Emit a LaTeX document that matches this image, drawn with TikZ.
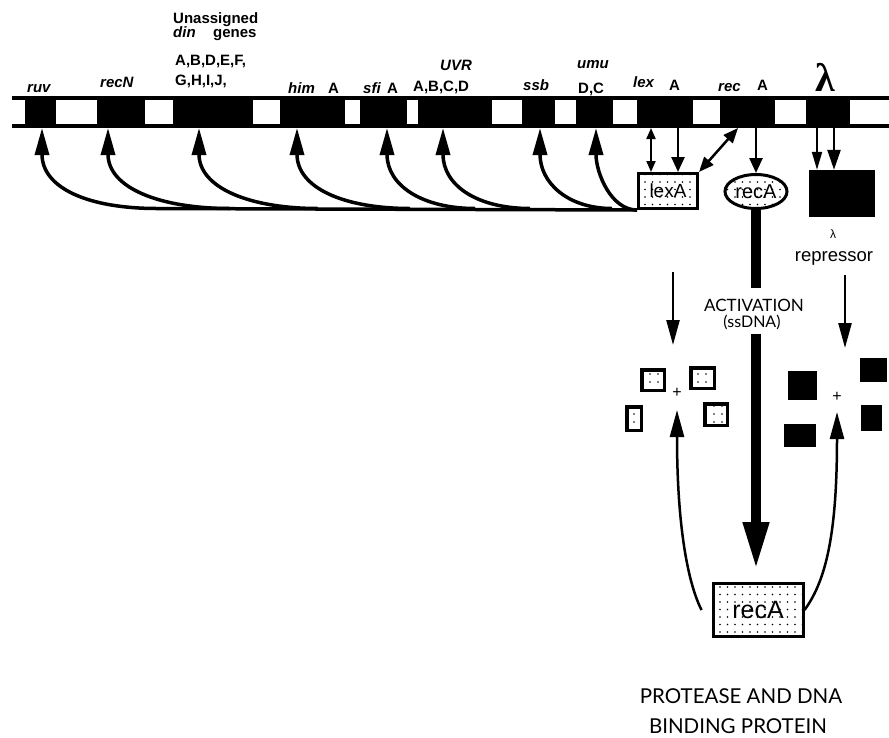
\documentclass[tikz,border=0pt]{standalone}
\usepackage{fontspec}
\setmainfont{Liberation Sans}
\newfontfamily\gillfont{Lato}
\newfontfamily\lamfont{Liberation Serif}
\usepackage{tikz}
\usetikzlibrary{
  shapes.geometric, arrows.meta, patterns.meta, positioning
}
\tikzset{
  genelabel/.style={
    anchor=base west, inner sep=0pt,
    font=\fontsize{15}{17}\selectfont\bfseries\itshape
  },
  genetext/.style={
    anchor=base west, inner sep=0pt,
    font=\fontsize{15}{17}\selectfont\bfseries
  },
  dotbox/.style={
    draw, line width=3pt, inner sep=0pt, align=center,
    pattern={Dots[radius=0.9pt, distance=7.5pt]}
  },
  dotsquare/.style={
    draw, line width=3.5pt, inner sep=0pt,
    pattern={Dots[radius=0.9pt, distance=8pt, xshift=2pt, yshift=3pt]}
  },
  blacksquare/.style={
    fill=black, inner sep=0pt
  },
  genearrow/.style={
    -{Triangle[length=27pt, width=14pt]}, line width=3.5pt
  },
  boxarrow/.style={
    -{Triangle[length=15pt, width=13pt]}, line width=2.5pt
  },
  twoarrow/.style={
    {Triangle[length=11pt, width=9pt]}-{Triangle[length=11pt, width=9pt]},
    line width=2pt
  },
  bigtwoarrow/.style={
    {Triangle[length=15pt, width=12pt]}-{Triangle[length=15pt, width=12pt]},
    line width=2.5pt
  },
  cyclearrow/.style={
    -{Triangle[length=27pt, width=14pt]}, line width=2.5pt
  },
  shaft/.style={line width=10pt},
  bottomtext/.style={
    font=\gillfont\fontsize{20.5}{24}\selectfont, anchor=base, inner sep=0pt
  },
}

\begin{document}
\begin{tikzpicture}[x=1pt, y=-1pt]
  \useasboundingbox (0,0) rectangle (889,737);

  % Chromosome band with gaps
  \fill (12,96) rectangle (889,128);
  \foreach \xa/\xb in {11/25, 56/97, 145/173, 253/280, 345/360, 407/418,
      492/522, 555/576, 613/637, 693/720, 775/806, 850/890}
    \fill[white] (\xa,100) rectangle (\xb,124);

  % Gene names
  \node[genelabel] (lruv) at (27,92) {ruv};
  \node[genelabel] (lrecN) at (100,87) {recN};
  \node[genetext] (lunas) at (173,23) {Unassigned};
  \node[genelabel] (ldin) at (173,37) {din};
  \node[genetext] (lgenes) at (213,37) {genes};
  \node[genetext] (ldin1) at (175,65) {A,B,D,E,F,};
  \node[genetext] (ldin2) at (175,85) {G,H,I,J,};
  \node[genelabel] (lhim) at (288,93) {him};
  \node[genetext] (lhimA) at (328,93) {A};
  \node[genelabel] (lsfi) at (363,93) {sfi};
  \node[genetext] (lsfiA) at (387,93) {A};
  \node[genelabel] (luvr) at (440,70) {UVR};
  \node[genetext] (luvrA) at (413,91) {A,B,C,D};
  \node[genelabel] (lssb) at (523,90) {ssb};
  \node[genelabel] (lumu) at (577,68) {umu};
  \node[genetext] (lumuD) at (578,93) {D,C};
  \node[genelabel] (llex) at (633,87) {lex};
  \node[genetext] (llexA) at (669,90) {A};
  \node[genelabel] (lrec) at (718,91) {rec};
  \node[genetext] (lrecA) at (757,90) {A};
  \node[anchor=base west, inner sep=0pt,
    font=\lamfont\bfseries\fontsize{40}{42}\selectfont] (llam) at (815,91) {λ};

  % Gene products
  \node[dotbox, minimum width=59, minimum height=35,
    font=\fontsize{19}{21}\selectfont] (lexA) at (668,191) {lexA};
  \node[dotbox, ellipse, minimum width=62, minimum height=34,
    font=\fontsize{20}{22}\selectfont] (recAo) at (756,191.5) {recA};
  \node[blacksquare, minimum width=66, minimum height=47] (lrep) at (842,193.5) {};
  \node[inner sep=0pt, anchor=base, font=\fontsize{12}{14}\selectfont]
    (lamsmall) at (833,238) {λ};
  \node[inner sep=0pt, anchor=base, font=\fontsize{18.5}{20}\selectfont]
    (repr) at (834,261) {repressor};

  % Gene targets under the band
  \coordinate (ruv) at (42,128);
  \coordinate (recN) at (108,128);
  \coordinate (din) at (199,128);
  \coordinate (him) at (297,128);
  \coordinate (sfi) at (387,128);
  \coordinate (uvr) at (443,128);
  \coordinate (ssb) at (540,128);
  \coordinate (umu) at (596,128);
  \coordinate (ruvj) at (157,208.5);

  % lexA repression lines
  \draw[line width=3.5pt] (lexA.south west) -- (ruvj);
  \draw[genearrow] (ruvj) .. controls +(-69,0) and +(0,60) .. (ruv);
  \draw[genearrow] (230,208.5) .. controls +(-70,0) and +(0,60) .. (recN);
  \draw[genearrow] (318,208.5) .. controls +(-68,0) and +(0,60) .. (din);
  \draw[genearrow] (410,208.5) .. controls +(-66,0) and +(0,60) .. (him);
  \draw[genearrow] (475,208.5) .. controls +(-52,0) and +(0,58) .. (sfi);
  \draw[genearrow] (530,208.5) .. controls +(-52,0) and +(0,58) .. (uvr);
  \draw[genearrow] (612,208.5) .. controls +(-44,0) and +(0,55) .. (ssb);
  \draw[genearrow] (lexA.south west) .. controls +(-26,0) and +(0,45) .. (umu);

  % Arrows to the products
  \coordinate (lexd) at (651,128);
  \coordinate (lexa) at (678,128);
  \coordinate (recd) at (738,128);
  \coordinate (reca) at (756,128);
  \coordinate (lam1) at (817,128);
  \coordinate (lam2) at (834,128);
  \draw[twoarrow] (lexd) -- (lexd |- lexA.north);
  \draw[boxarrow] (lexa) -- (lexa |- lexA.north);
  \draw[bigtwoarrow] (recd) -- (lexA.north east);
  \draw[boxarrow] (reca) -- (recAo.north);
  \draw[-{Triangle[length=18pt, width=10pt]}, line width=2pt]
    (lam1) -- (lam1 |- lrep.north);
  \draw[-{Triangle[length=20pt, width=13pt]}, line width=2.5pt]
    (lam2) -- (lam2 |- lrep.north);

  % Activation
  \node[dotbox, minimum width=90, minimum height=53,
    font=\fontsize{25}{27}\selectfont] (recAb) at (758,610) {recA};
  \node[inner sep=0pt, anchor=base, font=\gillfont\fontsize{17}{19}\selectfont]
    (act) at (754,311) {ACTIVATION};
  \node[inner sep=0pt, anchor=base, font=\gillfont\fontsize{16}{18}\selectfont]
    (ssdna) at (752,327) {(ssDNA)};
  \draw[shaft, shorten >=10pt] (recAo.south) -- (recAo.south |- act.north);
  \draw[shaft, -{Triangle[length=48pt, width=24pt]}, shorten <=4pt, shorten >=12pt]
    (recAo.south |- ssdna.south) -- (recAo.south |- recAb.north);

  % Cleaved lexA
  \node[dotsquare, minimum width=22.5, minimum height=20.5] (sq1) at (653,380) {};
  \node[dotsquare, minimum width=23.5, minimum height=20.5] (sq2) at (702.5,378) {};
  \node[dotsquare, minimum width=14.5, minimum height=23.5] (sq3) at (634,418.5) {};
  \node[dotsquare, minimum width=22.5, minimum height=21.5] (sq4) at (716,414.5) {};
  \node[font=\fontsize{16}{18}\selectfont, inner sep=0pt] (plus1) at (677,393) {+};

  % Cleaved repressor
  \node[blacksquare, minimum width=29, minimum height=29] (bl1) at (802.5,385.5) {};
  \node[blacksquare, minimum width=27, minimum height=24] (bl2) at (873.5,370) {};
  \node[blacksquare, minimum width=32, minimum height=23] (bl3) at (800,435.5) {};
  \node[blacksquare, minimum width=21, minimum height=26] (bl4) at (871.5,418) {};
  \node[font=\fontsize{16}{18}\selectfont, inner sep=0pt] (plus2) at (837,397) {+};

  \coordinate (lfrom) at (673,272);
  \coordinate (lto) at (673,345);
  \coordinate (rfrom) at (845,275);
  \coordinate (rto) at (845,348);
  \draw[-{Triangle[length=25pt, width=13pt]}, line width=2.5pt] (lfrom) -- (lto);
  \draw[-{Triangle[length=25pt, width=13pt]}, line width=2.5pt] (rfrom) -- (rto);

  % Cleavage by activated recA
  \coordinate (ltip) at (677,410);
  \coordinate (rtip) at (837,412);
  \draw[cyclearrow] ([xshift=-10pt]recAb.west) .. controls +(-15,-30) and +(0,110) .. (ltip);
  \draw[cyclearrow] (recAb.east) .. controls +(22,-30) and +(0,120) .. (rtip);

  \node[bottomtext] (prot1) at (741,703) {PROTEASE AND DNA};
  \node[bottomtext] (prot2) at (738,733) {BINDING PROTEIN};
\end{tikzpicture}
\end{document}
